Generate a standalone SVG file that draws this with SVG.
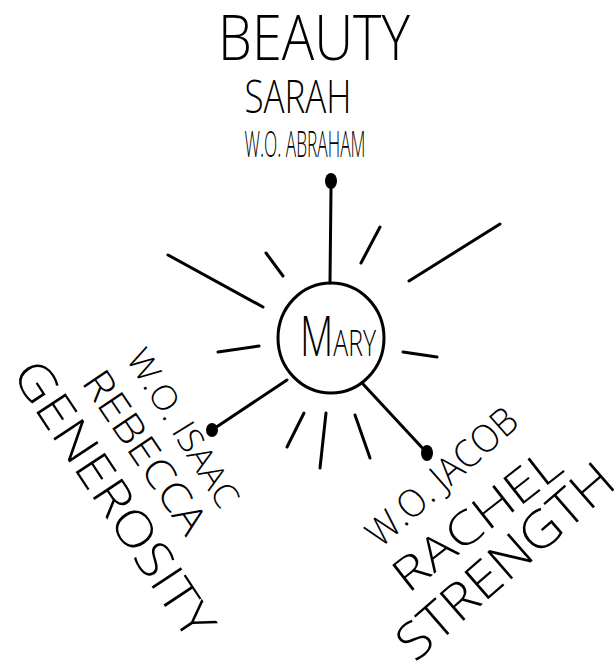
<svg xmlns="http://www.w3.org/2000/svg" width="614" height="662" viewBox="0 0 614 662">
<style>
.ln{stroke:#000;stroke-width:3;stroke-linecap:round;fill:none}
.dot{fill:#000}
.t{font-family:"Open Sans","Liberation Sans",sans-serif;font-weight:300;fill:#000;text-anchor:middle}
</style>
<rect width="614" height="662" fill="#fff"/>
<g id="rays">
<line class="ln" x1="168" y1="255" x2="263" y2="307"/>
<line class="ln" x1="266" y1="253" x2="283" y2="276"/>
<line class="ln" x1="380" y1="227" x2="361" y2="263"/>
<line class="ln" x1="500" y1="224" x2="409" y2="281"/>
<line class="ln" x1="218" y1="352" x2="259" y2="346"/>
<line class="ln" x1="403" y1="352" x2="437" y2="357"/>
<line class="ln" x1="304" y1="413" x2="287" y2="447"/>
<line class="ln" x1="326" y1="413" x2="320" y2="468"/>
<line class="ln" x1="355" y1="415" x2="370" y2="458"/>
</g>
<g id="connectors">
<line class="ln" x1="331" y1="189" x2="330" y2="283"/>
<line class="ln" x1="287" y1="380" x2="212" y2="430"/>
<line class="ln" x1="363" y1="384" x2="427" y2="453"/>
<ellipse class="dot" cx="331" cy="181" rx="6" ry="8"/>
<ellipse class="dot" cx="212" cy="430" rx="6" ry="7"/>
<ellipse class="dot" cx="427" cy="453" rx="6" ry="8"/>
</g>
<g id="node-mary">
<ellipse class="ln" cx="331" cy="338" rx="53" ry="55"/>
<text class="t" x="300" y="356" style="text-anchor:start" textLength="76" lengthAdjust="spacingAndGlyphs"><tspan font-size="56">M</tspan><tspan font-size="36">ARY</tspan></text>
</g>
<g id="node-sarah">
<text class="t" x="314" y="60" font-size="62" textLength="192" lengthAdjust="spacingAndGlyphs">BEAUTY</text>
<text class="t" x="298" y="113" font-size="46" textLength="107" lengthAdjust="spacingAndGlyphs">SARAH</text>
<text class="t" x="305" y="157" font-size="36" textLength="121" lengthAdjust="spacingAndGlyphs">W.O. ABRAHAM</text>
</g>
<g id="node-rebecca">
<text class="t" transform="translate(183,428) rotate(58)" x="0" y="12" font-size="34" textLength="180" lengthAdjust="spacingAndGlyphs">W.O. ISAAC</text>
<text class="t" transform="translate(145,452) rotate(56)" x="0" y="14" font-size="40" textLength="188" lengthAdjust="spacingAndGlyphs">REBECCA</text>
<text class="t" transform="translate(114,499) rotate(56.5)" x="0" y="17" font-size="49" textLength="322" lengthAdjust="spacingAndGlyphs">GENEROSITY</text>
</g>
<g id="node-rachel">
<text class="t" transform="translate(442,477) rotate(-41.5)" x="0" y="13" font-size="38" textLength="188" lengthAdjust="spacingAndGlyphs">W.O. JACOB</text>
<text class="t" transform="translate(477,520) rotate(-38)" x="0" y="16" font-size="46" textLength="200" lengthAdjust="spacingAndGlyphs">RACHEL</text>
<text class="t" transform="translate(505,561) rotate(-41)" x="0" y="18" font-size="51" textLength="270" lengthAdjust="spacingAndGlyphs">STRENGTH</text>
</g>
</svg>
